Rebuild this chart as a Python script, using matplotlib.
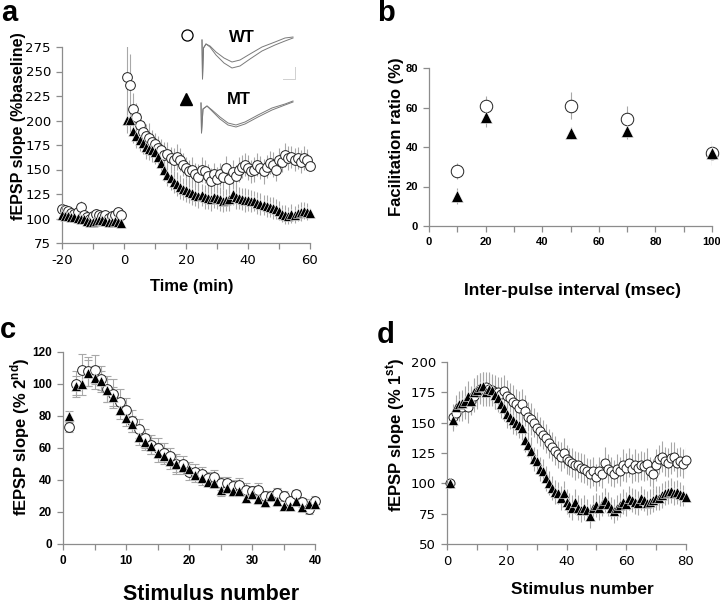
import numpy as np
import matplotlib
matplotlib.use('Agg')
import matplotlib.pyplot as plt
from matplotlib.ticker import MultipleLocator
from matplotlib.font_manager import FontProperties

plt.rcParams['font.family'] = ['Liberation Sans', 'DejaVu Sans']
plt.rcParams['mathtext.fontset'] = 'custom'
plt.rcParams['mathtext.rm'] = 'Liberation Sans'
plt.rcParams['mathtext.bf'] = 'Liberation Sans:bold'
plt.rcParams['axes.unicode_minus'] = False

# ------------------------------------------------------------------ #
# Panel a: LTP time course                                            #
# ------------------------------------------------------------------ #
a_time = list(range(-20, 0)) + list(range(1, 61))
a_wt = [110, 109, 108, 106, 105, 107, 112, 104, 102, 100,
        103, 105, 104, 103, 104, 101, 103, 104, 107, 104,
        244, 236, 212, 204, 195, 188, 184, 182, 178, 176,
        172, 170, 165, 166, 162, 160, 163, 160, 155, 152,
        148, 150, 145, 142, 150, 148, 143, 138, 145, 140,
        145, 142, 152, 140, 147, 143, 150, 153, 155, 152,
        148, 150, 155, 152, 148, 153, 157, 155, 150, 160,
        158, 165, 162, 163, 160, 162, 158, 162, 160, 154]
a_wt_err = [4, 5, 4, 4, 5, 4, 6, 5, 4, 5,
            4, 5, 4, 4, 5, 4, 4, 5, 4, 5,
            45, 32, 16, 14, 13, 12, 12, 15, 12, 11,
            12, 11, 13, 12, 11, 12, 13, 12, 12, 11,
            12, 13, 12, 14, 13, 12, 13, 14, 12, 13,
            12, 13, 12, 14, 13, 12, 13, 12, 12, 13,
            12, 13, 12, 12, 13, 12, 12, 13, 12, 12,
            11, 12, 12, 11, 12, 11, 12, 12, 11, 10]
a_mt = [104, 103, 103, 102, 102, 101, 100, 99, 97, 96,
        96, 97, 98, 98, 97, 96, 96, 97, 96, 95,
        201, 201, 189, 184, 180, 177, 173, 171, 170, 168,
        163, 157, 150, 144, 141, 137, 135, 132, 130, 129,
        127, 126, 124, 123, 124, 122, 121, 120, 122, 121,
        120, 118, 119, 120, 125, 122, 121, 120, 119, 119,
        118, 118, 116, 115, 114, 113, 112, 111, 110, 108,
        105, 104, 103, 105, 104, 106, 107, 108, 107, 106]
a_mt_err = [4, 4, 5, 4, 4, 5, 4, 4, 5, 4,
            4, 5, 4, 4, 4, 5, 4, 4, 4, 4,
            14, 13, 12, 12, 11, 11, 12, 11, 12, 12,
            11, 12, 12, 11, 12, 11, 12, 12, 11, 12,
            11, 12, 11, 12, 11, 12, 11, 12, 11, 11,
            12, 11, 11, 12, 11, 12, 11, 11, 12, 11,
            11, 10, 11, 11, 10, 11, 10, 11, 10, 10,
            9, 10, 9, 10, 9, 9, 10, 9, 9, 8]

# inset traces (arbitrary units, as drawn)
wt_trace_x = [202, 202.5, 203.5, 206, 210, 216, 224, 232, 240, 250, 262, 275, 285, 293]
wt_trace_y1 = [40, 79, 48, 44, 46, 52, 58, 62, 60, 54, 47, 42, 38, 37]
wt_trace_y2 = [40, 79, 48, 44, 47, 55, 63, 68, 66, 59, 51, 45, 41, 38]
mt_trace_x = [201, 201.5, 203, 207, 212, 220, 228, 236, 245, 258, 272, 285, 293]
mt_trace_y1 = [103, 133, 109, 106, 110, 117, 123, 125, 122, 115, 108, 104, 101]
mt_trace_y2 = [103, 133, 109, 106, 111, 119, 125, 127, 124, 117, 110, 105, 102]

# ------------------------------------------------------------------ #
# Panel b: paired-pulse facilitation                                  #
# ------------------------------------------------------------------ #
b_interval = [10, 20, 50, 70, 100]
b_wt = [28, 61, 61, 54, 37]
b_wt_err = [4, 5, 7, 7, 6]
b_mt = [15, 55, 47, 48, 37]
b_mt_err = [4, 5, 3, 4, 6]

# ------------------------------------------------------------------ #
# Panel c: stimulus train (% 2nd)                                     #
# ------------------------------------------------------------------ #
c_stim = list(range(1, 41))
c_wt = [73, 100, 109, 108, 109, 103, 97, 94, 89, 84,
        77, 72, 66, 62, 60, 57, 55, 50, 50, 45,
        45, 44, 41, 42, 38, 38, 36, 37, 34, 33,
        34, 30, 30, 32, 30, 27, 31, 26, 22, 27]
c_wt_err = [3, 8, 10, 9, 9, 8, 8, 9, 8, 7,
            7, 6, 6, 6, 6, 6, 5, 6, 5, 5,
            5, 4, 4, 4, 4, 4, 4, 4, 4, 3,
            4, 3, 3, 3, 3, 3, 3, 3, 3, 3]
c_mt = [80, 99, 100, 107, 104, 102, 96, 92, 84, 79,
        75, 67, 64, 61, 57, 55, 52, 50, 48, 47,
        43, 41, 39, 38, 34, 35, 33, 33, 29, 31,
        28, 26, 30, 27, 24, 24, 27, 23, 25, 25]
c_mt_err = [3, 6, 7, 8, 7, 6, 7, 6, 6, 5,
            5, 5, 5, 5, 6, 5, 5, 5, 4, 4,
            4, 4, 3, 3, 4, 3, 3, 3, 3, 3,
            3, 3, 3, 3, 3, 3, 3, 3, 3, 3]

# ------------------------------------------------------------------ #
# Panel d: stimulus train (% 1st)                                     #
# ------------------------------------------------------------------ #
d_stim = list(range(1, 81))
d_wt = [100, 155, 158, 163, 163, 165, 163, 168, 172, 175,
        178, 178, 179, 178, 177, 175, 175, 174, 176, 172,
        170, 167, 165, 162, 165, 160, 155, 153, 150, 146,
        143, 140, 137, 133, 130, 127, 124, 122, 125, 120,
        118, 117, 115, 115, 113, 112, 110, 108, 110, 105,
        110, 108, 117, 112, 110, 108, 112, 110, 115, 113,
        117, 112, 115, 113, 115, 114, 116, 110, 108, 115,
        120, 122, 118, 117, 121, 122, 117, 118, 116, 119]
d_wt_err = [2, 10, 11, 12, 12, 12, 13, 12, 13, 14,
            13, 14, 13, 14, 13, 14, 13, 14, 13, 13,
            13, 14, 13, 14, 13, 13, 12, 13, 12, 13,
            12, 12, 12, 12, 12, 12, 11, 12, 12, 12,
            11, 12, 12, 11, 12, 12, 11, 12, 12, 11,
            12, 12, 13, 12, 12, 11, 12, 12, 13, 12,
            12, 12, 13, 12, 12, 12, 13, 12, 12, 13,
            12, 13, 12, 12, 13, 12, 12, 12, 12, 11]
d_mt = [100, 152, 163, 165, 166, 168, 172, 168, 175, 177,
        179, 180, 175, 178, 177, 173, 170, 165, 162, 157,
        155, 152, 150, 148, 146, 136, 132, 127, 120, 118,
        112, 110, 104, 100, 96, 93, 92, 88, 92, 85,
        82, 80, 85, 80, 78, 80, 78, 73, 80, 82,
        80, 83, 86, 83, 80, 77, 80, 82, 85, 83,
        88, 86, 85, 84, 88, 86, 84, 85, 86, 88,
        88, 90, 92, 93, 94, 92, 93, 91, 90, 89]
d_mt_err = [2, 9, 10, 11, 11, 12, 12, 11, 12, 12,
            12, 12, 11, 12, 11, 12, 11, 11, 11, 11,
            10, 11, 10, 11, 10, 10, 10, 11, 10, 10,
            10, 10, 10, 10, 10, 10, 9, 10, 10, 10,
            10, 10, 10, 10, 10, 10, 9, 10, 10, 10,
            10, 10, 10, 10, 9, 10, 10, 10, 10, 10,
            10, 10, 10, 10, 10, 9, 10, 10, 10, 10,
            10, 10, 10, 10, 10, 10, 10, 10, 9, 9]

W, H = 720, 604
SPINE = '#8c8c8c'
ERR = '#a8a8a8'


def px_axes(fig, x0, y0, x1, y1):
    """Axes from pixel box (left, top, right, bottom)."""
    return fig.add_axes([x0 / W, 1 - y1 / H, (x1 - x0) / W, (y1 - y0) / H])


def style_axes(ax, tickfont):
    for s in ['top', 'right']:
        ax.spines[s].set_visible(False)
    for s in ['left', 'bottom']:
        ax.spines[s].set_color(SPINE)
        ax.spines[s].set_linewidth(0.9)
    ax.tick_params(which='both', color=SPINE, width=0.9, length=4, pad=4)
    ax.tick_params(which='minor', length=4)
    for lab in ax.get_xticklabels() + ax.get_yticklabels():
        lab.set_fontproperties(tickfont)
        lab.set_color('black')


def draw_series(ax, x, wt, wt_err, mt, mt_err, ms, capsize=0):
    ax.errorbar(x, wt, yerr=wt_err, fmt='none', ecolor=ERR, elinewidth=0.8,
                capsize=capsize, capthick=0.8, zorder=1)
    ax.errorbar(x, mt, yerr=mt_err, fmt='none', ecolor=ERR, elinewidth=0.8,
                capsize=capsize, capthick=0.8, zorder=1)
    ax.plot(x, wt, 'o', ms=ms, mfc='white', mec='#222222', mew=0.7,
            ls='none', zorder=2, clip_on=False)
    ax.plot(x, mt, '^', ms=ms, mfc='black', mec='white', mew=0.4,
            ls='none', zorder=3, clip_on=False)


fig = plt.figure(figsize=(7.2, 6.04), dpi=100)

fp_wide = FontProperties(family='DejaVu Sans', size=9.5)
fp_bold = FontProperties(family='Liberation Sans', size=8.5, weight='bold')

# ---- panel a ----
ax = px_axes(fig, 62, 47, 310, 243)
draw_series(ax, a_time, a_wt, a_wt_err, a_mt, a_mt_err, ms=7)
ax.set_xlim(-20, 60)
ax.set_ylim(75, 275)
ax.xaxis.set_major_locator(MultipleLocator(20))
ax.xaxis.set_minor_locator(MultipleLocator(10))
ax.yaxis.set_major_locator(MultipleLocator(25))
style_axes(ax, fp_wide)
fig.text(19 / W, 1 - 126 / H, 'fEPSP slope (%baseline)', rotation=90,
         ha='center', va='center', fontsize=11.5, fontweight='bold')
fig.text(192 / W, 1 - 287 / H, 'Time (min)', ha='center', va='center',
         fontsize=12, fontweight='bold')

# inset traces
ins = px_axes(fig, 195, 28, 300, 138)
ins.plot(wt_trace_x, wt_trace_y1, color='#7a7a7a', lw=0.7)
ins.plot(wt_trace_x, wt_trace_y2, color='#7a7a7a', lw=0.7)
ins.plot(mt_trace_x, mt_trace_y1, color='#7a7a7a', lw=0.7)
ins.plot(mt_trace_x, mt_trace_y2, color='#7a7a7a', lw=0.7)
ins.plot([283, 295, 295], [79, 79, 67], color='#d0d0d0', lw=0.7)
ins.set_xlim(195, 300)
ins.set_ylim(138, 28)
ins.axis('off')
fig.text(242 / W, 1 - 37 / H, 'WT', ha='center', va='center',
         fontsize=12, fontweight='bold')
fig.text(239 / W, 1 - 99 / H, 'MT', ha='center', va='center',
         fontsize=12, fontweight='bold')
fig.lines.append(plt.Line2D([187 / W], [1 - 35 / H], marker='o', ms=8,
                            mfc='white', mec='black', mew=0.9,
                            transform=fig.transFigure))
fig.lines.append(plt.Line2D([186 / W], [1 - 99 / H], marker='^', ms=8,
                            mfc='black', mec='black',
                            transform=fig.transFigure))

# ---- panel b ----
ax = px_axes(fig, 429, 68, 712, 226)
draw_series(ax, b_interval, b_wt, b_wt_err, b_mt, b_mt_err, ms=9)
ax.set_xlim(0, 100)
ax.set_ylim(0, 80)
ax.xaxis.set_major_locator(MultipleLocator(20))
ax.xaxis.set_minor_locator(MultipleLocator(10))
ax.yaxis.set_major_locator(MultipleLocator(20))
style_axes(ax, FontProperties(family='Liberation Sans', size=8, weight='bold'))
fig.text(396 / W, 1 - 137 / H, 'Facilitation ratio (%)', rotation=90,
         ha='center', va='center', fontsize=12, fontweight='bold')
fig.text(572 / W, 1 - 290 / H, 'Inter-pulse interval (msec)', ha='center',
         va='center', fontsize=12.5, fontweight='bold')

# ---- panel c ----
ax = px_axes(fig, 63, 352, 315, 544)
draw_series(ax, c_stim, c_wt, c_wt_err, c_mt, c_mt_err, ms=7, capsize=3)
ax.set_xlim(0, 40)
ax.set_ylim(0, 120)
ax.xaxis.set_major_locator(MultipleLocator(10))
ax.xaxis.set_minor_locator(MultipleLocator(5))
ax.yaxis.set_major_locator(MultipleLocator(20))
style_axes(ax, fp_bold)
fig.text(20 / W, 1 - 437 / H, r'fEPSP slope (% 2$^{\mathbf{nd}}$)', rotation=90,
         ha='center', va='center', fontsize=12, fontweight='bold')
fig.text(211 / W, 1 - 595 / H, 'Stimulus number', ha='center', va='center',
         fontsize=15.5, fontweight='bold')

# ---- panel d ----
ax = px_axes(fig, 447, 362, 686, 544)
draw_series(ax, d_stim, d_wt, d_wt_err, d_mt, d_mt_err, ms=6.5)
ax.set_xlim(0, 80)
ax.set_ylim(50, 200)
ax.xaxis.set_major_locator(MultipleLocator(20))
ax.xaxis.set_minor_locator(MultipleLocator(10))
ax.yaxis.set_major_locator(MultipleLocator(25))
style_axes(ax, fp_wide)
fig.text(396 / W, 1 - 435 / H, r'fEPSP slope (% 1$^{\mathbf{st}}$)', rotation=90,
         ha='center', va='center', fontsize=12, fontweight='bold')
fig.text(582 / W, 1 - 590 / H, 'Stimulus number', ha='center', va='center',
         fontsize=12.5, fontweight='bold')

# panel letters
for lx, ly, letter in [(1, 21, 'a'), (377, 21, 'b'), (0, 338, 'c'), (377, 343, 'd')]:
    fig.text(lx / W, 1 - ly / H, letter, ha='left', va='baseline',
             fontsize=21, fontweight='bold')

fig.savefig('out.png', dpi=100)
